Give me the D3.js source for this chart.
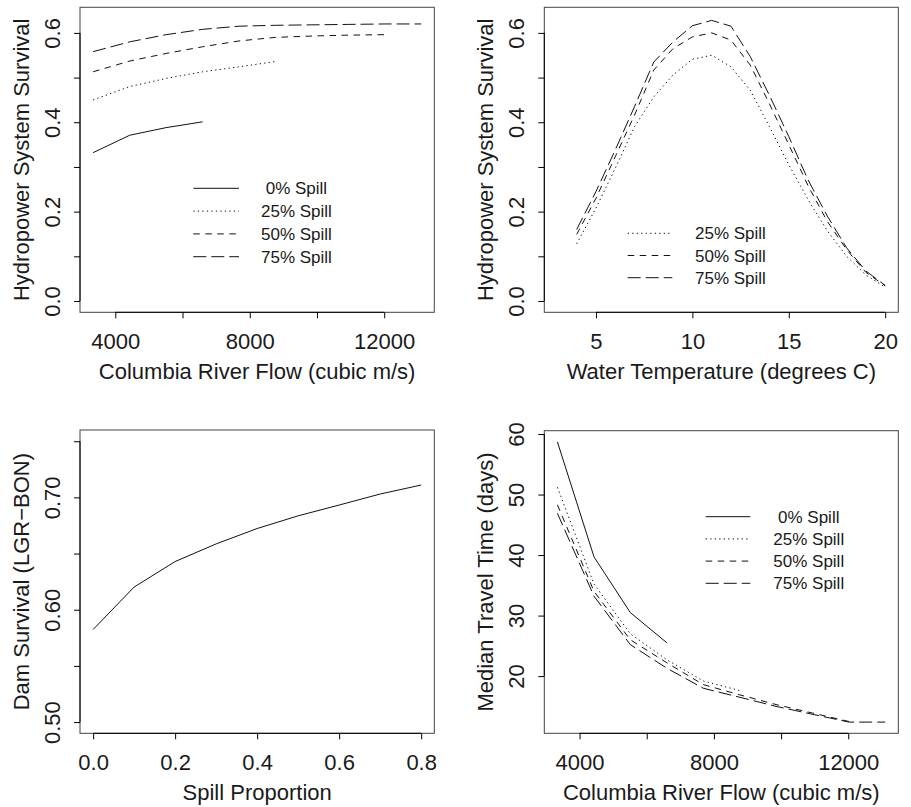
<!DOCTYPE html>
<html>
<head>
<meta charset="utf-8">
<script src="https://cdn.jsdelivr.net/npm/d3@7"></script>
<style>
  body { margin: 0; background: #fff; }
  svg text { font-family: "Liberation Sans", Arial, sans-serif; fill: #1a1a1a; }
</style>
</head>
<body>
<div id="chart"></div>
<script>
// ---- data ----
const flow = [3340, 4430, 5510, 6600, 7680, 8770, 9850, 10930, 12020, 13100]
const survFlow0 = [0.332, 0.371, 0.388, 0.401]
const survFlow25 = [0.450, 0.480, 0.498, 0.513, 0.524, 0.536]
const survFlow50 = [0.513, 0.537, 0.554, 0.569, 0.582, 0.590, 0.593, 0.595, 0.596]
const survFlow75 = [0.558, 0.580, 0.596, 0.608, 0.615, 0.617, 0.618, 0.619, 0.620, 0.620]

const temp = [4, 5, 6, 7, 8, 9, 10, 11, 12, 13, 14, 15, 16, 17, 18, 19, 20]
const survTemp25 = [0.128, 0.208, 0.297, 0.390, 0.457, 0.506, 0.541, 0.550, 0.524, 0.472, 0.390, 0.305, 0.227, 0.157, 0.100, 0.058, 0.031]
const survTemp50 = [0.149, 0.230, 0.323, 0.416, 0.517, 0.565, 0.591, 0.600, 0.584, 0.528, 0.441, 0.350, 0.258, 0.178, 0.115, 0.064, 0.034]
const survTemp75 = [0.160, 0.245, 0.338, 0.435, 0.535, 0.580, 0.616, 0.628, 0.615, 0.547, 0.460, 0.368, 0.271, 0.190, 0.119, 0.067, 0.035]

const spill = [0.0, 0.1, 0.2, 0.3, 0.4, 0.5, 0.6, 0.7, 0.8]
const damSurv = [0.5824, 0.6202, 0.6429, 0.6586, 0.6723, 0.6836, 0.6932, 0.7030, 0.7110]

const travel0 = [58.7, 39.7, 30.5, 25.5]
const travel25 = [51.2, 35.2, 27.0, 22.7, 19.2, 17.6]
const travel50 = [48.3, 34.0, 26.0, 22.2, 18.6, 16.9, 15.3, 13.9, 12.5]
const travel75 = [46.9, 33.2, 25.2, 21.3, 18.0, 16.5, 15.0, 13.7, 12.4, 12.4]

const spillLabels = [' 0% Spill', '25% Spill', '50% Spill', '75% Spill']
const flowTicks = [4000, 6000, 8000, 10000, 12000]
const flowLabels = [4000, 8000, 12000]
const survTicks = [0, 0.1, 0.2, 0.3, 0.4, 0.5, 0.6]
const survLabels = [0, 0.2, 0.4, 0.6]
const tempTicks = [5, 10, 15, 20]
const spillTicks = [0, 0.2, 0.4, 0.6, 0.8]
const damTicks = [0.50, 0.55, 0.60, 0.65, 0.70, 0.75]
const damLabels = [0.50, 0.60, 0.70]
const travelTicks = [20, 30, 40, 50, 60]

// R line types
const dash = { solid: null, dotted: '1.3,3.2', dashed: '6.5,5.5', longdash: '13,5' }

// R pads axis limits by 4%
const pad = lim => { const r = lim[1] - lim[0]; return [lim[0] - 0.04 * r, lim[1] + 0.04 * r] }

const svg = d3.select('#chart').append('svg').attr('width', 911).attr('height', 807)

function panel (o) {
    const b = o.box
    const x = d3.scaleLinear().domain(pad(o.xLim)).range([b.left, b.right])
    const y = d3.scaleLinear().domain(pad(o.yLim)).range([b.bottom, b.top])
    const g = svg.append('g')

    g.append('rect').attr('x', b.left).attr('y', b.top)
        .attr('width', b.right - b.left).attr('height', b.bottom - b.top)
        .attr('fill', 'none').attr('stroke', '#444').attr('stroke-width', 1)

    // bottom axis
    const xa = g.append('g').attr('transform', `translate(0,${b.bottom})`)
        .call(d3.axisBottom(x).tickValues(o.xTicks).tickSize(6).tickSizeOuter(0).tickPadding(15)
            .tickFormat(d => o.xLabels.some(v => Math.abs(v - d) < 1e-9) ? o.xFmt(d) : ''))
    xa.select('.domain').attr('d', `M${x(o.xTicks[0])},0H${x(o.xTicks[o.xTicks.length - 1])}`)
    xa.selectAll('text').style('font-size', '22px').attr('fill', '#1a1a1a')

    // left axis, labels rotated as in R
    const ya = g.append('g').attr('transform', `translate(${b.left},0)`)
        .call(d3.axisLeft(y).tickValues(o.yTicks).tickSize(6).tickSizeOuter(0)
            .tickFormat(d => o.yLabels.some(v => Math.abs(v - d) < 1e-9) ? o.yFmt(d) : ''))
    ya.select('.domain').attr('d', `M0,${y(o.yTicks[0])}V${y(o.yTicks[o.yTicks.length - 1])}`)
    ya.selectAll('text').style('font-size', '22px').attr('fill', '#1a1a1a')
        .attr('x', -20.5).attr('y', 0).attr('dy', 0).attr('text-anchor', 'middle')
        .attr('transform', 'rotate(-90,-20.5,0)')
    g.selectAll('.domain, .tick line').attr('stroke', '#000').attr('stroke-width', 1)

    g.append('text').attr('x', (b.left + b.right) / 2).attr('y', b.bottom + 66.7)
        .attr('text-anchor', 'middle').style('font-size', '22px').text(o.xTitle)
    g.append('text').attr('transform', `translate(${b.left - 51},${(b.top + b.bottom) / 2}) rotate(-90)`)
        .attr('text-anchor', 'middle').style('font-size', '22px').text(o.yTitle)

    const line = d3.line().x(d => x(d[0])).y(d => y(d[1]))
    o.series.forEach(s => {
        g.append('path').datum(s.vals.map((v, i) => [s.xs[i], v]))
            .attr('d', line).attr('fill', 'none').attr('stroke', '#111').attr('stroke-width', 1)
            .attr('stroke-dasharray', dash[s.lty])
    })

    if (o.legend) {
        const L = o.legend
        o.series.forEach((s, i) => {
            const yy = L.y + i * L.row
            g.append('line').attr('x1', L.x).attr('x2', L.x + L.len).attr('y1', yy).attr('y2', yy)
                .attr('stroke', '#111').attr('stroke-width', 1).attr('stroke-dasharray', dash[s.lty])
            g.append('text').attr('x', L.x + L.textDx).attr('y', yy).attr('dy', '0.36em')
                .style('font-size', '17px').style('white-space', 'pre').text(s.label)
        })
    }
}

panel({
    box: { left: 80, right: 434.3, top: 7.3, bottom: 312.3 },
    xLim: [3340, 13100], yLim: [0, 0.632],
    xTicks: flowTicks, xLabels: flowLabels, xFmt: d3.format('d'),
    yTicks: survTicks, yLabels: survLabels, yFmt: d3.format('.1f'),
    xTitle: 'Columbia River Flow (cubic m/s)', yTitle: 'Hydropower System Survival',
    series: [
        { xs: flow, vals: survFlow0, lty: 'solid', label: spillLabels[0] },
        { xs: flow, vals: survFlow25, lty: 'dotted', label: spillLabels[1] },
        { xs: flow, vals: survFlow50, lty: 'dashed', label: spillLabels[2] },
        { xs: flow, vals: survFlow75, lty: 'longdash', label: spillLabels[3] }
    ],
    legend: { x: 193.3, y: 188.3, row: 22.8, len: 45.7, textDx: 67.7 }
})

panel({
    box: { left: 544.3, right: 898.3, top: 7.3, bottom: 312.3 },
    xLim: [3, 20], yLim: [0, 0.632],
    xTicks: tempTicks, xLabels: tempTicks, xFmt: d3.format('d'),
    yTicks: survTicks, yLabels: survLabels, yFmt: d3.format('.1f'),
    xTitle: 'Water Temperature (degrees C)', yTitle: 'Hydropower System Survival',
    series: [
        { xs: temp, vals: survTemp25, lty: 'dotted', label: spillLabels[1] },
        { xs: temp, vals: survTemp50, lty: 'dashed', label: spillLabels[2] },
        { xs: temp, vals: survTemp75, lty: 'longdash', label: spillLabels[3] }
    ],
    legend: { x: 627.7, y: 233.3, row: 22.2, len: 44.6, textDx: 67.3 }
})

panel({
    box: { left: 80, right: 434.3, top: 430, bottom: 733.3 },
    xLim: [0, 0.8], yLim: [0.5, 0.75],
    xTicks: spillTicks, xLabels: spillTicks, xFmt: d3.format('.1f'),
    yTicks: damTicks, yLabels: damLabels, yFmt: d3.format('.2f'),
    xTitle: 'Spill Proportion', yTitle: 'Dam Survival (LGR\u2212BON)',
    series: [{ xs: spill, vals: damSurv, lty: 'solid' }]
})

panel({
    box: { left: 544.3, right: 898.3, top: 430.7, bottom: 733.3 },
    xLim: [3340, 13100], yLim: [12.4, 58.7],
    xTicks: flowTicks, xLabels: flowLabels, xFmt: d3.format('d'),
    yTicks: travelTicks, yLabels: travelTicks, yFmt: d3.format('d'),
    xTitle: 'Columbia River Flow (cubic m/s)', yTitle: 'Median Travel Time (days)',
    series: [
        { xs: flow, vals: travel0, lty: 'solid', label: spillLabels[0] },
        { xs: flow, vals: travel25, lty: 'dotted', label: spillLabels[1] },
        { xs: flow, vals: travel50, lty: 'dashed', label: spillLabels[2] },
        { xs: flow, vals: travel75, lty: 'longdash', label: spillLabels[3] }
    ],
    legend: { x: 705.7, y: 516.7, row: 22.2, len: 44.6, textDx: 67.6 }
})
</script>
</body>
</html>
